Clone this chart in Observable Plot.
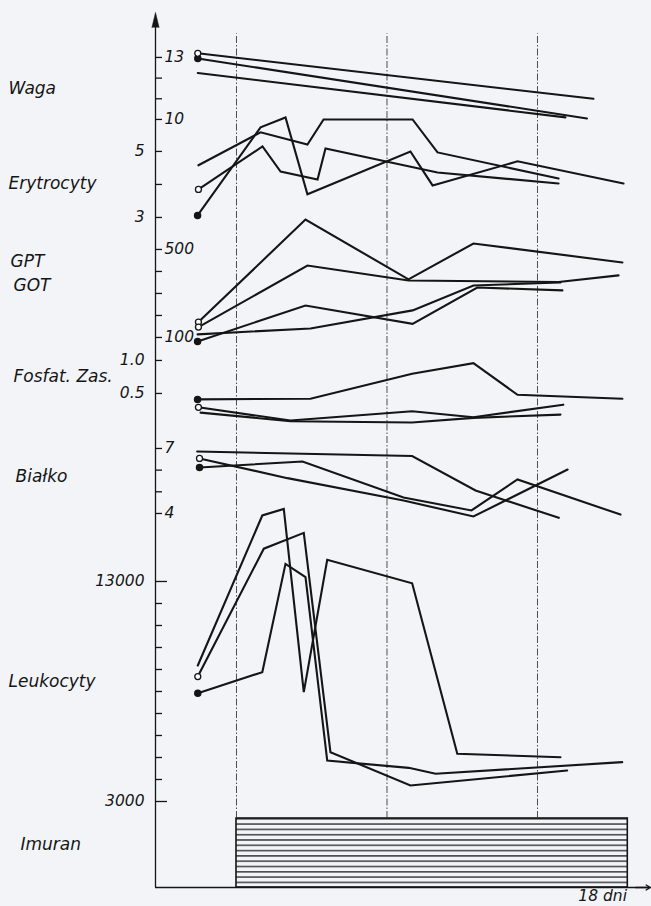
<!DOCTYPE html>
<html><head><meta charset="utf-8">
<script src="https://cdn.jsdelivr.net/npm/d3@7"></script>
<script src="https://cdn.jsdelivr.net/npm/@observablehq/plot@0.6"></script>
<style>
html,body{margin:0;padding:0;background:#f2f4f8;overflow:hidden;}
#chart svg{display:block;}
</style></head><body>
<div id="chart"></div>
<script>
// ---- data: [day, value] ----
const wagaA = [[-1.8,13.2],[16.6,11.0]];
const wagaB = [[-1.8,12.95],[16.3,10.05]];
const wagaC = [[-1.8,12.25],[15.3,10.1]];

const erytA = [[-1.77,4.58],[1.12,5.58],[3.30,5.21],[4.05,5.97],[8.19,5.97],[9.35,4.97],[14.98,4.18]];
const erytB = [[-1.77,3.85],[1.21,5.15],[2.05,4.39],[3.77,4.15],[4.14,5.09],[9.35,4.36],[14.98,4.03]];
const erytC = [[-1.81,3.06],[1.12,5.73],[2.28,6.03],[3.30,3.70],[8.09,5.0],[9.12,3.97],[13.07,4.70],[18.0,4.03]];

const gptA = [[-1.77,170],[3.21,636],[8.0,364],[11.02,527],[17.95,441]];
const gptB = [[-1.77,147],[3.30,427],[8.0,359],[14.98,352],[17.77,382]];
const gptC = [[-1.81,114],[3.44,141],[8.19,223],[11.02,336],[15.07,350]];
const gptD = [[-1.81,82],[3.21,245],[8.19,162],[11.2,327],[15.16,314]];

const fosA = [[-1.81,0.41],[3.44,0.42],[8.17,0.80],[11.02,0.96],[13.07,0.48],[17.95,0.42]];
const fosB = [[-1.77,0.29],[2.51,0.09],[8.17,0.23],[11.02,0.14],[15.2,0.33]];
const fosC = [[-1.67,0.21],[2.51,0.08],[8.17,0.06],[11.02,0.13],[15.07,0.18]];

const bialA = [[-1.83,6.86],[8.17,6.65],[11.12,5.06],[14.99,3.80]];
const bialB = [[-1.72,6.12],[3.07,6.40],[7.77,4.74],[10.93,4.14],[13.07,5.57],[17.86,3.95]];
const bialC = [[-1.72,6.54],[2.37,5.63],[7.77,4.60],[11.02,3.86],[15.4,6.03]];

const leukA = [[-1.8,9180],[1.2,16000],[2.2,16300],[3.13,7970],[4.22,13990],[8.17,12920],[10.27,5170],[15.07,5010]];
const leukB = [[-1.8,8680],[1.27,14490],[3.13,15210],[4.37,5240],[8.09,3730],[15.38,4410]];
const leukC = [[-1.8,7920],[1.2,8880],[2.28,13800],[3.21,13200],[4.22,4860],[8.01,4530],[9.26,4260],[17.94,4790]];

const imuranStart = 0, imuranEnd = 18.2;   // days of treatment
const weekDays = [0, 7, 14];

// tick values and labelled ticks
const wagaTicks = [13,12,11,10], wagaLabels = [[13,"13"],[10,"10"]];
const erytTicks = [5,4,3], erytLabels = [[5,"5"],[3,"3"]];
const gptTicks = [500,400,300,200,100], gptLabels = [[500,"500"],[100,"100"]];
const fosTicks = [1.0,0.5], fosLabels = [[1.0,"1.0"],[0.5,"0.5"]];
const bialTicks = [7,6,5,4], bialLabels = [[7,"7"],[4,"4"]];
const leukTicks = [13000,12000,11000,10000,9000,8000,7000,6000,5000,4000,3000], leukLabels = [[13000,"13000"],[3000,"3000"]];

// ---- layout: each panel's mapping onto the shared vertical axis ----
const panels = {
  waga: {v0:10, u0:34.909, k:0.9395, side:"right"},
  eryt: {v0:3, u0:30.455, k:1.5, side:"left"},
  gpt:  {v0:100, u0:25.0, k:0.01, side:"right"},
  fos:  {v0:0.5, u0:22.455, k:3.0, side:"left"},
  bial: {v0:4, u0:17.0, k:0.985, side:"right"},
  leuk: {v0:3000, u0:3.909, k:0.001, side:"left"}
};
const imuranTop = 3.136, guideTop = 38.8, axisTop = 39.77;
const xMin = -3.767, xMax = 19.256, pxPerDay = 495 / (xMax - xMin);
const toU = (p, v) => panels[p].u0 + (v - panels[p].v0) * panels[p].k;

const seriesList = [
  ["waga", wagaA, "open"], ["waga", wagaB, "filled"], ["waga", wagaC, null],
  ["eryt", erytA, null], ["eryt", erytB, "open"], ["eryt", erytC, "filled"],
  ["gpt", gptA, "open"], ["gpt", gptB, "open"], ["gpt", gptC, null], ["gpt", gptD, "filled"],
  ["fos", fosA, "filled"], ["fos", fosB, "open"], ["fos", fosC, null],
  ["bial", bialA, null], ["bial", bialB, "filled"], ["bial", bialC, "open"],
  ["leuk", leukA, null], ["leuk", leukB, "open"], ["leuk", leukC, "filled"]
];
const linePts = seriesList.flatMap(([p, pts], i) => pts.map(([d, v]) => ({id: i, d, u: toU(p, v)})));
const starts = seriesList.filter(s => s[2]).map(([p, pts, m]) => ({d: pts[0][0], u: toU(p, pts[0][1]), m}));

const tickSets = [["waga", wagaTicks, wagaLabels], ["eryt", erytTicks, erytLabels], ["gpt", gptTicks, gptLabels],
  ["fos", fosTicks, fosLabels], ["bial", bialTicks, bialLabels], ["leuk", leukTicks, leukLabels]];
const tickData = tickSets.flatMap(([p, t, lab]) => t.map(v => ({u: toU(p, v), len: (p === "leuk" && lab.some(l => l[0] === v)) ? 12 : 7})));
const labelData = tickSets.flatMap(([p, t, lab]) => lab.map(([v, s]) => ({u: toU(p, v), s, side: panels[p].side})));

const panelLabels = [
  {text:"Waga", left:8, u:36.3}, {text:"Erytrocyty", left:8, u:32.0},
  {text:"GPT", left:10, u:28.43}, {text:"GOT", left:13, u:27.36},
  {text:"Fosfat. Zas.", left:13, u:23.23}, {text:"Białko", left:15, u:18.66},
  {text:"Leukocyty", left:8, u:9.36}, {text:"Imuran", left:20, u:1.93}
].map(d => ({...d, x: xMin + (d.left - 155) / pxPerDay}));

const ink = "#151515";
const font = "DejaVu Sans, Verdana, sans-serif";

const chart = Plot.plot({
  width: 651, height: 906,
  marginLeft: 155, marginRight: 1, marginTop: 12, marginBottom: 19,
  x: {domain: [xMin, xMax], axis: null},
  y: {domain: [0, axisTop], axis: null},
  style: {background: "#f2f4f8", fontFamily: font, overflow: "visible"},
  marks: [
    Plot.rect([{a: imuranStart, b: imuranEnd}], {x1: "a", x2: "b", y1: () => 0, y2: () => imuranTop,
      fill: "url(#hatch)", stroke: ink, strokeWidth: 1.6}),
    Plot.ruleX(weekDays, {x: d => d, y1: () => imuranTop, y2: () => guideTop,
      stroke: "#3a3a3a", strokeWidth: 0.9, strokeDasharray: "7,2,1.5,2"}),
    Plot.ruleX([xMin], {x: d => d, y1: () => 0, y2: () => axisTop - 0.6, stroke: ink, strokeWidth: 1.3}),
    Plot.vector([xMin], {x: d => d, y: () => axisTop - 0.68, length: 15, r: 3.6, shape: "spike",
      anchor: "start", fill: ink, stroke: ink, strokeWidth: 0.5}),
    Plot.ruleY([0], {y: d => d, x1: () => xMin, x2: () => xMax - 0.05, stroke: ink, strokeWidth: 1.5}),
    Plot.arrow([0], {x1: () => xMax - 0.7, x2: () => xMax, y1: () => 0, y2: () => 0,
      headLength: 9, stroke: ink, strokeWidth: 1.4}),
    Plot.ruleY(tickData, {y: "u", x1: () => xMin, x2: d => xMin + d.len / pxPerDay, stroke: ink, strokeWidth: 1.3}),
    Plot.line(linePts, {x: "d", y: "u", z: "id", stroke: ink, strokeWidth: 2.1,
      strokeLinejoin: "miter", strokeMiterlimit: 6, curve: "linear"}),
    Plot.dot(starts.filter(d => d.m === "filled"), {x: "d", y: "u", r: 3, fill: ink, stroke: ink}),
    Plot.dot(starts.filter(d => d.m === "open"), {x: "d", y: "u", r: 3, fill: "#ffffff", stroke: ink, strokeWidth: 1.3}),
    Plot.text(labelData.filter(d => d.side === "right"), {x: () => xMin, y: "u", text: "s", dx: 9,
      textAnchor: "start", fontSize: 15.5, fontStyle: "italic", fill: ink}),
    Plot.text(labelData.filter(d => d.side === "left"), {x: () => xMin, y: "u", text: "s", dx: -11,
      textAnchor: "end", fontSize: 15.5, fontStyle: "italic", fill: ink}),
    Plot.text(panelLabels, {x: "x", y: "u", text: "text", textAnchor: "start",
      fontSize: 17, fontStyle: "italic", fill: ink}),
    Plot.text(["18 dni"], {x: () => 15.9, y: () => -0.4, text: d => d, textAnchor: "start",
      fontSize: 15.5, fontStyle: "italic", fill: ink})
  ]
});

const ns = "http://www.w3.org/2000/svg";
const defs = document.createElementNS(ns, "defs");
defs.innerHTML = '<pattern id="hatch" patternUnits="userSpaceOnUse" width="8" height="5.3">' +
  '<rect width="8" height="5.3" fill="#f2f4f8"/>' +
  '<line x1="0" y1="2.6" x2="8" y2="2.6" stroke="#222" stroke-width="1.3"/></pattern>';
chart.prepend(defs);
document.getElementById("chart").appendChild(chart);
</script></body></html>
